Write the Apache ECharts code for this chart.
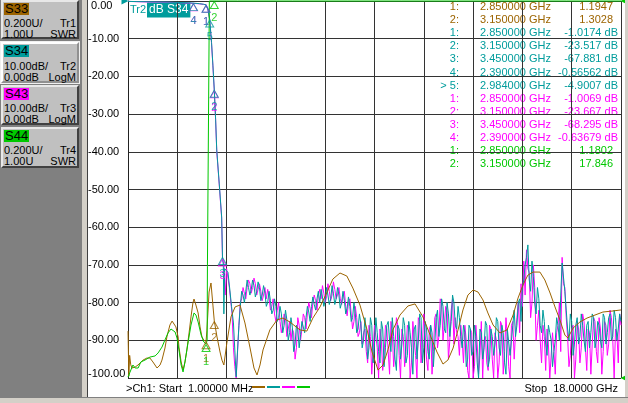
<!DOCTYPE html>
<html>
<head>
<meta charset="utf-8">
<script src="https://cdn.jsdelivr.net/npm/echarts@6/dist/echarts.min.js"></script>
<style>
  html, body { margin: 0; padding: 0; background: #fff; }
  #wrap { position: relative; width: 628px; height: 403px; overflow: hidden; background: #fff;
          font-family: "Liberation Sans", Arial, sans-serif; }
  #chart { position: absolute; left: 0; top: 0; width: 628px; height: 403px; }
  #panel { position: absolute; left: 0; top: 0; width: 82px; height: 397px; background: #808080; }
  #strip { position: absolute; left: 82px; top: 0; width: 5px; height: 397px; background: #d4d0c8;
           border-right: 1px solid #404040; }
  #bottom { position: absolute; left: 0; top: 397px; width: 628px; height: 6px; background: #d4d0c8;
            border-top: 1px solid #808080; }
  #rightb { position: absolute; left: 625px; top: 0; width: 3px; height: 397px; background: #d4d0c8; }
  .btn { position: absolute; left: 1px; width: 78px; box-sizing: border-box; background: #c0c0c0;
         border: 2px solid; border-color: #e8e8e8 #404040 #404040 #e8e8e8; font-size: 11px; color: #000; }
  .btn.sel { border-color: #ffffff #909090 #909090 #ffffff; outline: 1px solid #f0f0f0; }
  .tag { position: absolute; left: 1px; top: 1px; height: 12px; padding: 0 1px; font-size: 13px; line-height: 12px; color: #000; }
  .row { position: absolute; left: 1px; right: 1px; height: 11px; line-height: 11px; display: flex; justify-content: space-between; }
</style>
</head>
<body>
<div id="wrap">
  <div id="chart"></div>
  <div id="panel"></div>
  <div id="strip"></div>
  <div id="rightb"></div>
  <div id="bottom"></div>
</div>
<script>
// trace buttons on the left panel
const traceNames = ["S33", "S34", "S43", "S44"];
const traceColors = ["#9c6400", "#009c9c", "#ff00ff", "#00c800"];
const traceScale = ["0.200U/", "10.00dB/", "10.00dB/", "0.200U/"];
const traceRef = ["1.00U", "0.00dB", "0.00dB", "1.00U"];
const traceFormat = ["SWR", "LogM", "LogM", "SWR"];

// S33 (SWR) trace, GHz / U
const s33Freq = [0.001,0.03,0.06,0.1,0.146,0.26,0.365,0.55,0.69,0.8,0.91,1.06,1.17,1.24,1.35,1.42,1.53,1.61,1.68,1.75,
  1.83,1.86,1.94,2.01,2.08,2.15,2.23,2.3,2.37,2.41,2.48,2.56,2.63,2.7,2.77,2.85,2.88,2.96,3.03,3.1,
  3.15,3.25,3.36,3.43,3.5,3.61,3.76,3.91,4.09,4.27,4.45,4.6,4.71,4.82,4.93,5.18,5.44,5.66,5.91,6.28,
  6.53,6.75,7.01,7.27,7.48,7.74,7.99,8.21,8.47,8.73,8.91,9.13,9.31,9.49,9.67,9.93,10.22,10.48,10.77,11.03,
  11.28,11.5,11.68,11.87,12.05,12.23,12.41,12.6,12.78,12.96,13.14,13.33,13.58,13.84,14.06,14.24,14.42,14.6,14.79,15.04,
  15.22,15.41,15.59,15.77,15.95,16.06,16.25,16.5,16.76,17.05,17.34,17.67,18];
const s33Val = [1.249,1.01,1.12,1.07,1.053,1.058,1.069,1.095,1.106,1.106,1.085,1.053,1.069,1.095,1.159,1.218,1.281,1.302,1.297,1.271,
  1.218,1.164,1.085,1.042,1.085,1.149,1.239,1.324,1.398,1.419,1.387,1.345,1.271,1.218,1.2,1.195,1.25,1.456,1.504,1.387,
  1.303,1.218,1.138,1.095,1.069,1.186,1.324,1.377,1.387,1.292,1.164,1.053,1.016,1.069,1.149,1.255,1.308,1.318,1.297,1.255,
  1.249,1.318,1.377,1.456,1.525,1.557,1.541,1.477,1.387,1.255,1.138,1.042,1.069,1.149,1.255,1.334,1.382,1.393,1.324,1.228,
  1.138,1.074,1.095,1.159,1.255,1.361,1.44,1.467,1.456,1.414,1.345,1.281,1.239,1.255,1.334,1.424,1.493,1.546,1.562,1.562,
  1.52,1.451,1.377,1.308,1.228,1.212,1.265,1.297,1.318,1.334,1.35,1.355,1.361];

// S34 (dB): passband + skirt, then the sweep from 4 GHz read at 0.05 GHz (two interleaved 0.1 GHz lists)
const s34HeadFreq = [0.001,0.3,0.7,1.1,1.5,1.9,2.2,2.39,2.6,2.75,2.85,2.92,2.984,3.05,3.1,3.15,3.2,3.24,3.33,3.42,
  3.45,3.48,3.5,3.53,3.6,3.65,3.72,3.78,3.85,3.9,3.95];
const s34HeadVal = [-0.1,-0.15,-0.2,-0.25,-0.3,-0.4,-0.48,-0.566,-0.7,-0.85,-1.017,-2.3,-4.9,-11,-17,-23.5,-31.5,-39.5,-48.3,-57.3,
  -67.9,-70,-83,-71,-70.6,-72,-76.7,-81,-85.4,-92.6,-99.7];
const s34SweepAStart = 4.1;   // 4.1, 4.2 ... 18.0
const s34SweepA = [
  -81,-78,-77,-76,-76.5,-75.5,-77,-76,-78,
  -77.5,-80,-79.5,-82,-81,-84,-83,-86,-84.5,-88,
  -86.5,-91,-87,-88.5,-85,-84,-82.5,-81,-80.5,-79,
  -80,-78.5,-79.5,-78,-79,-77.5,-79,-78,-80,-79.5,
  -81.5,-81,-84,-83,-87,-85.5,-90,-87.5,-92,-86,
  -91,-88,-96,-87,-92,-85,-93,-89,-98,-87,
  -91,-86,-94,-88,-99,-86,-90,-84,-92,-87,
  -95,-88,-91,-82,-86,-81,-88,-83,-85,-80,
  -87,-84,-92,-88,-95,-87,-93,-89,-100,-88,
  -92,-86,-95,-89,-91,-85,-94,-88,-99,-87,
  -90,-82,-86,-79,-76,-70,-64.7,-77,-73,-83,
  -79,-88,-85,-94,-88,-97,-90,-86,-78,-70,
  -82,-90,-85,-91,-84,-89,-86,-93,-85,-88,
  -84,-90,-86,-92,-84,-88,-83,-89,-84,-87,
  -85];
const s34SweepBStart = 4.05;  // 4.05, 4.15 ... 17.95
const s34SweepB = [
  -86,-77,-80,-74,-78,-74,-78.5,-74.5,-79.5,-75.5,
  -81,-77,-83,-79,-85,-81,-88,-82,-90,-84,
  -93,-86,-92,-85,-88,-81,-85,-78.5,-82,-77,
  -76.5,-81,-76,-80.5,-75.5,-80.5,-76,-81.5,-77,-83,
  -78.5,-85,-80,-88,-83,-92,-84,-95,-84,-96,
  -84,-93,-85,-97,-86,-90,-84,-95,-86,-95,
  -84,-96,-85,-92,-87,-95,-83,-96,-85,-93,
  -86,-97,-84,-89,-79,-87,-80,-89,-78,-86,
  -81,-89,-86,-97,-86,-94,-86,-96,-87,-95,
  -85,-97,-87,-94,-84,-92,-86,-96,-87,-94,
  -86,-89,-80,-85,-74,-68,-74,-69,-80,-76,
  -86,-82,-91,-86,-90,-93,-84,-90,-69.5,-77,
  -87,-83,-94,-86,-91,-83,-90,-86,-92,-83,
  -92,-85,-90,-83,-91,-84,-90,-82,-90,-83];

// S43 (dB)
const s43HeadFreq = [0.001,0.3,0.7,1.1,1.5,1.9,2.2,2.39,2.6,2.75,2.85,2.92,2.984,3.05,3.1,3.15,3.2,3.24,3.33,3.42,
  3.45,3.5,3.55,3.6,3.7,3.8,3.85,3.9,3.95,4.0];
const s43HeadVal = [-0.1,-0.18,-0.25,-0.3,-0.35,-0.45,-0.55,-0.637,-0.75,-0.88,-1.007,-2.4,-5,-11.2,-17.2,-23.7,-31.8,-39.8,-48.6,-57.6,
  -68.3,-70,-78,-71,-76,-83,-92,-97,-100,-93];
const s43SweepAStart = 4.05;  // 4.05 ... 17.95
const s43SweepA = [
  -86,-79,-77.5,-76,-75,-76,-75,-76.5,-77,-78,
  -79,-78.5,-81,-83,-82,-85,-86,-84,-87,-90,
  -88,-92,-86,-87,-84,-83,-81.5,-80,-79.5,-78,
  -79,-77.5,-78.5,-77,-78,-76.5,-78,-79,-78.5,-81,
  -80,-83,-85,-84,-88,-91,-87,-96,-89,-93,
  -86,-100,-90,-94,-87,-99,-88,-92,-86,-100,
  -89,-93,-87,-96,-90,-100,-85,-91,-88,-98,
  -86,-93,-83,-89,-80,-86,-82,-90,-79,-84,
  -89,-86,-96,-90,-100,-88,-97,-91,-94,-100,
  -89,-98,-87,-100,-90,-96,-86,-93,-89,-100,
  -85,-88,-80,-75,-69,-66,-72,-80,-76,-86,
  -90,-86,-98,-91,-100,-93,-88,-80,-68,-76,
  -89,-94,-86,-95,-87,-92,-85,-98,-88,-91,
  -85,-96,-87,-93,-86,-91,-84,-100,-88,-83];
const s43SweepBStart = 4.1;   // 4.1 ... 18.0
const s43SweepB = [
  -80,-76,-79,-74,-77.5,-73.5,-78,-75,-79.5,-76,
  -76.5,-82,-79,-85,-80,-88,-83,-89,-85,-87,
  -95,-84,-90,-83,-87,-80,-84,-78,-82,-76.5,
  -75.5,-80,-75,-79.5,-74.5,-79,-76,-80.5,-77,-83.5,
  -79,-87,-81,-89,-85,-88,-93,-86,-99,-86,
  -92,-87,-98,-86,-93,-85,-97,-84,-94,-87,
  -97,-86,-100,-85,-94,-84,-96,-83,-95,-87,
  -99,-84,-92,-79,-90,-81,-95,-82,-91,-88,
  -94,-90,-86,-98,-87,-100,-86,-99,-85,-90,
  -96,-86,-95,-88,-100,-85,-99,-84,-97,-86,
  -95,-84,-88,-81,-78,-71,-84,-70,-90,-82,
  -96,-89,-87,-100,-88,-99,-86,-93,-75,-84,
  -97,-87,-100,-85,-96,-83,-92,-87,-99,-84,
  -93,-84,-99,-85,-94,-82,-90,-87,-96,-86];
const sweepStep = 0.1;

// S44 (SWR); off-scale above ~3 GHz
const s44Freq = [0.001,0.07,0.18,0.26,0.37,0.47,0.62,0.8,0.99,1.1,1.24,1.35,1.46,1.57,1.64,1.72,1.79,1.86,1.94,2.01,
  2.08,2.19,2.3,2.41,2.48,2.56,2.67,2.77,2.85,2.89,2.9,2.95,2.97,3.15,4,6,8,10,12,14,16,18];
const s44Val = [1.005,1.03,1.069,1.053,1.053,1.085,1.095,1.111,1.117,1.133,1.164,1.202,1.239,1.26,1.265,1.244,1.212,1.149,1.069,1.032,
  1.085,1.186,1.281,1.345,1.334,1.297,1.228,1.191,1.1802,1.2,1.59,1.6,6,17.846,14,11,9,10,12,9,11,10];

// markers
const s33MkFreq = [2.85, 3.15], s33MkVal = [1.1947, 1.3028];
const s34MkFreq = [2.85, 3.15, 3.45, 2.39, 2.984], s34MkVal = [-1.0174, -23.517, -67.881, -0.56562, -4.9007];
const s43MkFreq = [2.85, 3.15, 3.45, 2.39], s43MkVal = [-1.0069, -23.667, -68.295, -0.63679];
const s44MkFreq = [2.85, 3.15], s44MkVal = [1.1802, 17.846];
const activeMarker = [1, 4];  // trace index, marker index ("> 5:")

const swrTop = 3.0;  // 1.00U + 10 div * 0.200U

// ---- left panel buttons
const panel = document.getElementById("panel");
const btnTop = [0, 42, 85, 127];
const btnHeight = [39, 41, 40, 41];
traceNames.forEach((n, i) => {
  const b = document.createElement("div");
  b.className = "btn" + (i === 1 ? " sel" : "");
  b.style.top = btnTop[i] + "px";
  b.style.height = btnHeight[i] + "px";
  b.innerHTML =
    '<span class="tag" style="background:' + traceColors[i] + '">' + n + "</span>" +
    '<div class="row" style="top:' + (i === 1 ? 17 : 16) + 'px"><span>' + traceScale[i] + "</span><span>Tr" + (i + 1) + "</span></div>" +
    '<div class="row" style="top:' + (i === 1 ? 28 : 27) + 'px"><span>' + traceRef[i] + "</span><span>" + traceFormat[i] + "</span></div>";
  panel.appendChild(b);
});

// ---- series data
const pairs = (f, v) => f.map((x, i) => [x, v[i]]);
const sweep = (start, vals) => vals.map((v, i) => [+(start + i * sweepStep).toFixed(2), v]);
const byFreq = (a, b) => a[0] - b[0];
const swrClip = (arr) => arr.map(([f, v]) => [f, Math.min(v, swrTop)]);

const s33Data = pairs(s33Freq, s33Val);
const s34Data = pairs(s34HeadFreq, s34HeadVal)
  .concat([[4.0, -92.6]], sweep(s34SweepAStart, s34SweepA), sweep(s34SweepBStart, s34SweepB)).sort(byFreq);
const s43Data = pairs(s43HeadFreq, s43HeadVal)
  .concat(sweep(s43SweepAStart, s43SweepA), sweep(s43SweepBStart, s43SweepB)).sort(byFreq);
const s44Data = swrClip(pairs(s44Freq, s44Val));

const lineSeries = (data, color, yIdx, z) => ({
  type: "line", data, yAxisIndex: yIdx, symbol: "none", clip: false, z,
  lineStyle: { color, width: 1 }, animation: false, silent: true
});

const markerSeries = (f, v, color, yIdx, clipTop) => ({
  type: "scatter", yAxisIndex: yIdx, z: 10, animation: false, silent: true,
  data: f.map((x, i) => [x, clipTop ? Math.min(v[i], swrTop) : v[i]]),
  symbol: "triangle", symbolSize: [8, 7], symbolOffset: [0, 4],
  itemStyle: { color: "rgba(0,0,0,0)", borderColor: color, borderWidth: 1 },
  label: {
    show: true, position: "bottom", distance: 4, color, fontSize: 11,
    fontFamily: "Liberation Sans", formatter: (p) => String(p.dataIndex + 1)
  }
});

// ---- marker readout table
const fontFam = "Liberation Sans";
const tableRows = [];
[[s33MkFreq, s33MkVal, 0, ""], [s34MkFreq, s34MkVal, 1, " dB"], [s43MkFreq, s43MkVal, 2, " dB"], [s44MkFreq, s44MkVal, 3, ""]]
  .forEach(([f, v, t, unit]) => {
    f.forEach((x, i) => {
      const active = activeMarker[0] === t && activeMarker[1] === i;
      tableRows.push({
        num: (active ? "> " : "") + (i + 1) + ":",
        freq: x.toFixed(6) + " GHz",
        val: v[i].toPrecision(5) + unit,
        color: traceColors[t],
        db: unit !== ""
      });
    });
  });

const graphics = [];
tableRows.forEach((r, i) => {
  const y = 7 + i * 13.1;
  const st = { fill: r.color, font: "11px " + fontFam, textVerticalAlign: "middle" };
  graphics.push({ type: "text", x: 459, y, style: Object.assign({ text: r.num, textAlign: "right" }, st), silent: true });
  graphics.push({ type: "text", x: 480, y, style: Object.assign({ text: r.freq, textAlign: "left" }, st), silent: true });
  graphics.push({ type: "text", x: r.db ? 618 : 613, y, style: Object.assign({ text: r.val, textAlign: "right" }, st), silent: true });
});

// active trace title
graphics.push({ type: "text", x: 130, y: 10, silent: true,
  style: { text: "Tr2", fill: traceColors[1], font: "11px " + fontFam, textVerticalAlign: "middle" } });
graphics.push({ type: "text", x: 147, y: 10, silent: true,
  style: { text: "dB " + traceNames[1], fill: "#fff", backgroundColor: traceColors[1], padding: [2, 2, 1, 2],
           font: "12px " + fontFam, textVerticalAlign: "middle" } });

// footer
graphics.push({ type: "text", x: 126, y: 389, silent: true,
  style: { text: ">Ch1: Start  1.00000 MHz", fill: "#000", font: "11px " + fontFam, textVerticalAlign: "middle" } });
graphics.push({ type: "text", x: 618, y: 389, silent: true,
  style: { text: "Stop  18.0000 GHz", fill: "#000", font: "11px " + fontFam, textVerticalAlign: "middle", textAlign: "right" } });
traceColors.forEach((c, i) => {
  graphics.push({ type: "line", silent: true,
    shape: { x1: 252 + i * 15, y1: 387, x2: 265 + i * 15, y2: 387 },
    style: { stroke: c, lineWidth: 2 } });
});

const chart = echarts.init(document.getElementById("chart"));
chart.setOption({
  backgroundColor: "#fff",
  animation: false,
  grid: { left: 128, right: 7, top: 1, bottom: 25 },
  xAxis: {
    type: "value", min: 0, max: 18, interval: 1.8,
    axisLabel: { show: false }, axisTick: { show: false }, axisLine: { show: false },
    splitLine: { show: true, lineStyle: { color: "#333", width: 1 } }
  },
  yAxis: [
    {
      type: "value", min: -100, max: 0, interval: 10,
      axisLine: { show: true, lineStyle: { color: "#222", width: 1 } },
      axisTick: { show: false },
      splitLine: { show: true, lineStyle: { color: "#333", width: 1 } },
      axisLabel: {
        margin: 40, align: "left", color: "#000", fontSize: 11, fontFamily: fontFam,
        formatter: (v) => v === 0 ? "{t| 0.00}" : v === -100 ? "{b|-100.00}" : v.toFixed(2),
        rich: {
          t: { padding: [10, 0, 0, 0], color: "#000", fontSize: 11, fontFamily: fontFam },
          b: { padding: [0, 0, 9, 0], color: "#000", fontSize: 11, fontFamily: fontFam }
        }
      }
    },
    { type: "value", min: 1, max: swrTop, show: false }
  ],
  graphic: graphics,
  series: [
    lineSeries(s43Data, traceColors[2], 0, 2),
    Object.assign(lineSeries(s34Data, traceColors[1], 0, 3), {
      markPoint: {
        silent: true, symbol: "triangle", symbolSize: 7, symbolRotate: -90, symbolOffset: [-3, 0],
        itemStyle: { color: traceColors[1] }, label: { show: false },
        data: [{ coord: [0, 0] }]
      }
    }),
    lineSeries(s33Data, traceColors[0], 1, 4),
    Object.assign(lineSeries(s44Data, traceColors[3], 1, 5), {
      markPoint: {
        silent: true, symbol: "triangle", symbolSize: 7, symbolRotate: 90, symbolOffset: [3, 0],
        itemStyle: { color: traceColors[3] }, label: { show: false },
        data: [{ coord: [18, swrTop] }, { coord: [18, 1] }]
      }
    }),
    markerSeries(s43MkFreq, s43MkVal, traceColors[2], 0, false),
    markerSeries(s34MkFreq, s34MkVal, traceColors[1], 0, false),
    markerSeries(s33MkFreq, s33MkVal, traceColors[0], 1, false),
    markerSeries(s44MkFreq, s44MkVal, traceColors[3], 1, true)
  ]
});
</script>
</body>
</html>
